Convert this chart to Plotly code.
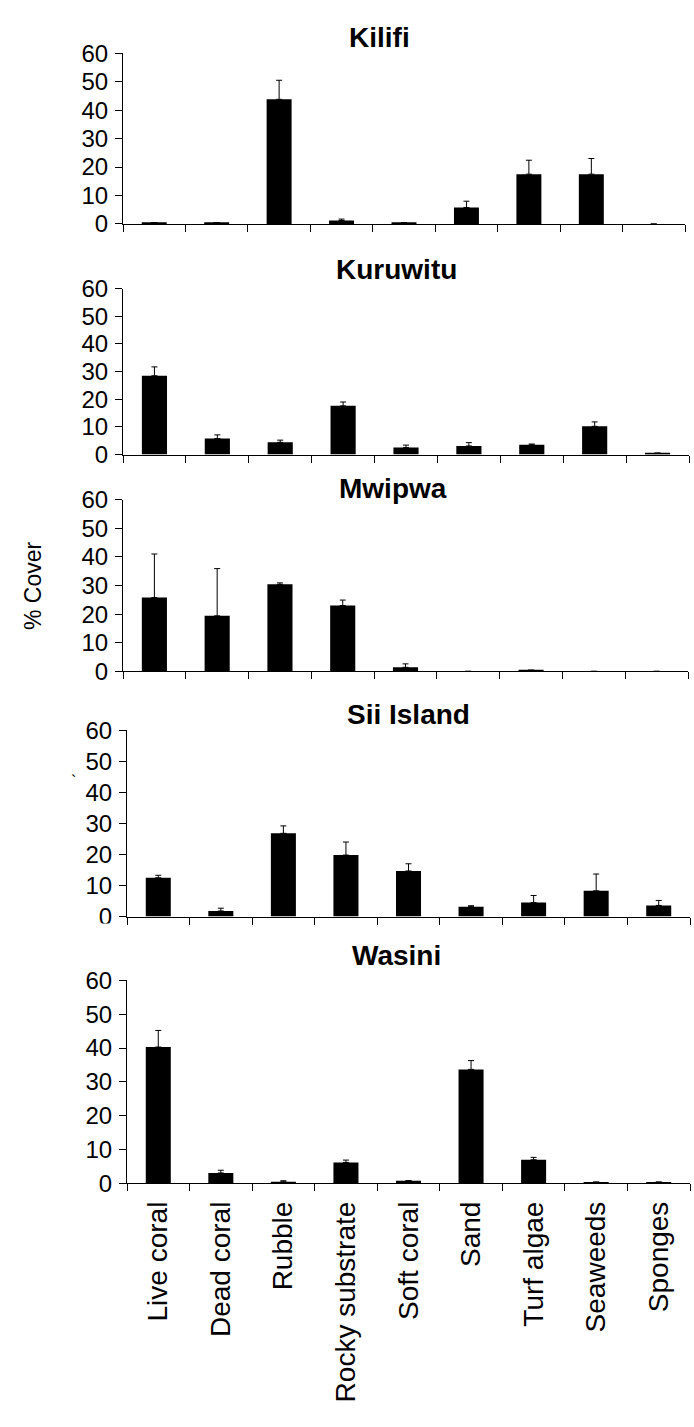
import plotly.graph_objects as go

categories = ["Live coral", "Dead coral", "Rubble", "Rocky substrate", "Soft coral",
              "Sand", "Turf algae", "Seaweeds", "Sponges"]
sites = ["Kilifi", "Kuruwitu", "Mwipwa", "Sii Island", "Wasini"]

kilifi_mean = [0.5, 0.5, 43.8, 1.2, 0.5, 5.8, 17.5, 17.5, 0.0]
kilifi_err = [0.0, 0.0, 6.7, 0.5, 0.0, 2.2, 4.9, 5.5, 0.0]

kuruwitu_mean = [28.5, 5.8, 4.4, 17.6, 2.5, 3.1, 3.5, 10.2, 0.5]
kuruwitu_err = [3.2, 1.3, 0.8, 1.4, 0.9, 1.2, 0.3, 1.6, 0.0]

mwipwa_mean = [25.8, 19.4, 30.4, 23.0, 1.4, 0.0, 0.4, 0.0, 0.0]
mwipwa_err = [15.2, 16.5, 0.5, 1.9, 1.2, 0.0, 0.0, 0.0, 0.0]

sii_mean = [12.5, 1.8, 26.8, 19.8, 14.7, 3.2, 4.5, 8.3, 3.6]
sii_err = [0.8, 0.9, 2.4, 4.2, 2.3, 0.3, 2.3, 5.4, 1.6]

wasini_mean = [40.3, 3.1, 0.5, 6.2, 0.8, 33.7, 7.0, 0.4, 0.4]
wasini_err = [4.9, 0.8, 0.3, 0.7, 0.0, 2.6, 0.7, 0.0, 0.0]

y_ticks = [0, 10, 20, 30, 40, 50, 60]
y_title = "% Cover"

means = [kilifi_mean, kuruwitu_mean, mwipwa_mean, sii_mean, wasini_mean]
errs = [kilifi_err, kuruwitu_err, mwipwa_err, sii_err, wasini_err]

W, H = 694, 1427
# panel pixel geometry: (top of 60, bottom 0, left axis x, right end x, title center y, title center x)
panels = [
    (40, 214, 123, 685, 24, 380),
    (280, 449, 123, 689, 260, 396),
    (495, 670, 123, 688, 484, 393),
    (730, 920, 127, 690, 714, 408),
    (985, 1192, 127, 690, 960, 396),
]

FONT = "Liberation Sans, Arial, sans-serif"
fig = go.Figure()
annotations = []
for i, (site, m, e, geo) in enumerate(zip(sites, means, errs, panels)):
    top, bot, left, right, ty, tx = geo
    sfx = "" if i == 0 else str(i + 1)
    fig.add_trace(go.Bar(
        x=categories, y=m,
        xaxis="x" + sfx, yaxis="y" + sfx,
        marker=dict(color="black", line=dict(width=0)),
        error_y=dict(type="data", array=e, arrayminus=[0] * len(e), symmetric=False,
                     color="black", thickness=1, width=3),
        showlegend=False,
    ))
    last = (i == len(sites) - 1)
    fig.layout["xaxis" + sfx] = dict(
        domain=[left / W, right / W], anchor="y" + sfx,
        type="category", categoryorder="array", categoryarray=categories,
        showline=True, linecolor="black", linewidth=1,
        ticks="outside", ticklen=7, tickcolor="black", tickwidth=1,
        tickson="boundaries", showgrid=False, zeroline=False,
        showticklabels=last, tickangle=-90,
        tickfont=dict(family=FONT, size=28, color="black"),
        ticklabelstandoff=6,
    )
    fig.layout["yaxis" + sfx] = dict(
        domain=[1 - bot / H, 1 - top / H], anchor="x" + sfx,
        range=[0, 60], tickvals=y_ticks,
        showline=True, linecolor="black", linewidth=1,
        ticks="outside", ticklen=7, tickcolor="black", tickwidth=1,
        showgrid=False, zeroline=False,
        tickfont=dict(family=FONT, size=24, color="black"),
        ticklabelstandoff=2,
    )
    annotations.append(dict(
        text="<b>%s</b>" % site, x=tx / W, y=1 - ty / H, xref="paper", yref="paper",
        xanchor="center", yanchor="middle", showarrow=False,
        font=dict(family=FONT, size=28, color="black"),
    ))

annotations.append(dict(
    text=y_title, x=33 / W, y=1 - 583 / H, xref="paper", yref="paper",
    xanchor="center", yanchor="middle", showarrow=False, textangle=-90,
    font=dict(family=FONT, size=23, color="black"),
))
annotations.append(dict(
    text="`", x=73 / W, y=1 - 782 / H, xref="paper", yref="paper",
    xanchor="center", yanchor="middle", showarrow=False,
    font=dict(family=FONT, size=16, color="black"),
))

# the Sii Island panel's "0" label is clipped at its lower edge in the reference
shapes = [dict(type="rect", xref="paper", yref="paper", layer="above",
               x0=85 / W, x1=121 / W, y0=1 - 942 / H, y1=1 - 927 / H,
               fillcolor="white", line=dict(width=0))]

fig.update_layout(
    width=W, height=H, margin=dict(l=0, r=0, t=0, b=0),
    paper_bgcolor="white", plot_bgcolor="white",
    bargap=0.6, annotations=annotations, shapes=shapes,
    font=dict(family=FONT, color="black"),
)
fig.write_html("out.html")
